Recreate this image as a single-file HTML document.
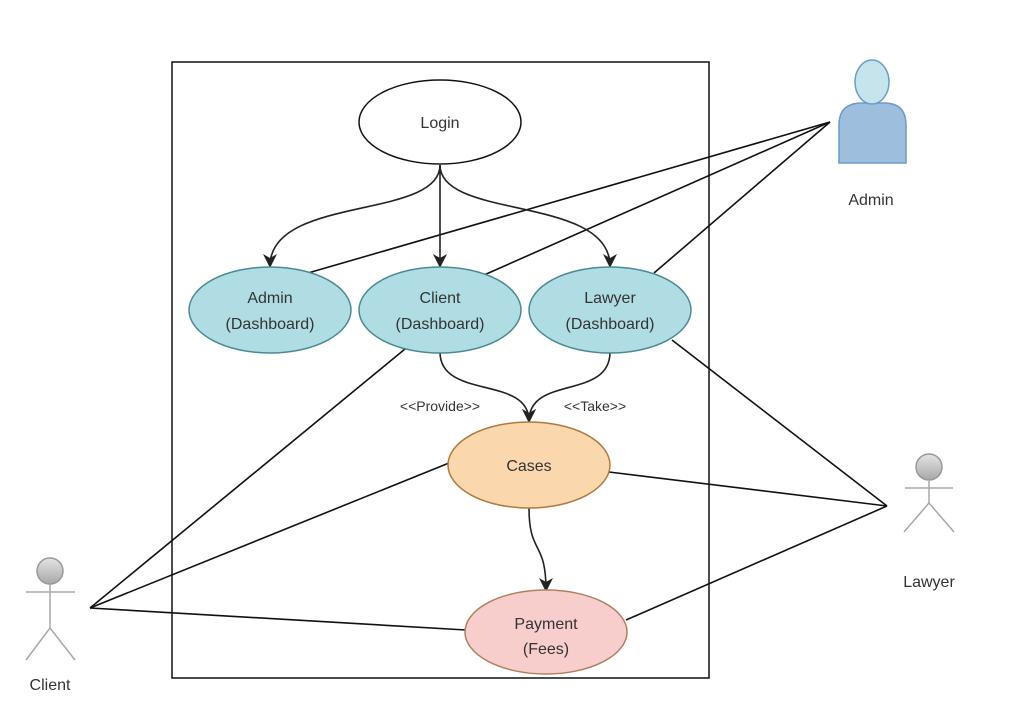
<!DOCTYPE html>
<html><head><meta charset="utf-8"><style>
html,body{margin:0;padding:0;background:#fff;}
svg{display:block;}
text{font-family:"Liberation Sans",Arial,sans-serif;font-size:16px;fill:#333;text-anchor:middle;}
</style></head><body>
<svg width="1024" height="727" viewBox="0 0 1024 727" xmlns="http://www.w3.org/2000/svg">
<defs>
<marker id="a" markerWidth="14" markerHeight="14" refX="12" refY="7" orient="auto" markerUnits="userSpaceOnUse">
<path d="M0,0 L14,7 L0,14 L4,7 Z" fill="#222"/></marker>
<linearGradient id="g" x1="0" y1="0" x2="0" y2="1"><stop offset="0" stop-color="#e4e4e4"/><stop offset="1" stop-color="#a8a8a8"/></linearGradient>
</defs>
<rect x="172" y="62" width="537" height="616" fill="none" stroke="#111" stroke-width="1.5"/>
<g stroke="#111" stroke-width="1.6" fill="none">
<line x1="830" y1="122" x2="308" y2="273"/>
<line x1="830" y1="122" x2="484" y2="275"/>
<line x1="830" y1="122" x2="654" y2="273"/>
<line x1="887" y1="506" x2="672" y2="340"/>
<line x1="887" y1="506" x2="609" y2="472"/>
<line x1="887" y1="506" x2="626" y2="620"/>
<line x1="90" y1="608" x2="405" y2="349"/>
<line x1="90" y1="608" x2="449" y2="463"/>
<line x1="90" y1="608" x2="466" y2="630"/>
</g>
<g stroke="#222" stroke-width="1.6" fill="none">
<path d="M440,165 C440,220 270,195 270,266" marker-end="url(#a)"/>
<path d="M440,165 L440,266" marker-end="url(#a)"/>
<path d="M440,165 C440,220 610,195 610,266" marker-end="url(#a)"/>
<path d="M440,352 C440,400 529,375 529,421" marker-end="url(#a)"/>
<path d="M610,352 C610,400 529,375 529,421" marker-end="url(#a)"/>
<path d="M529,508 C529,555 546,540 546,590" marker-end="url(#a)"/>
</g>
<ellipse cx="440" cy="122" rx="81" ry="42" fill="#fff" stroke="#111" stroke-width="1.5"/>
<text x="440" y="128">Login</text>
<g fill="#b0dde4" stroke="#4a8a95" stroke-width="1.5">
<ellipse cx="270" cy="310" rx="81" ry="43"/>
<ellipse cx="440" cy="310" rx="81" ry="43"/>
<ellipse cx="610" cy="310" rx="81" ry="43"/>
</g>
<text x="270" y="303">Admin</text><text x="270" y="329">(Dashboard)</text>
<text x="440" y="303">Client</text><text x="440" y="329">(Dashboard)</text>
<text x="610" y="303">Lawyer</text><text x="610" y="329">(Dashboard)</text>
<ellipse cx="529" cy="465" rx="81" ry="43" fill="#fad7ac" stroke="#b07a3c" stroke-width="1.5"/>
<text x="529" y="471">Cases</text>
<ellipse cx="546" cy="632" rx="81" ry="42" fill="#f8cecc" stroke="#b08060" stroke-width="1.5"/>
<text x="546" y="629">Payment</text><text x="546" y="654">(Fees)</text>
<text x="440" y="411" style="font-size:14px">&lt;&lt;Provide&gt;&gt;</text>
<text x="595" y="411" style="font-size:14px">&lt;&lt;Take&gt;&gt;</text>
<path d="M839,163 L839,125 Q839,103 862,103 L884,103 Q906,103 906,125 L906,163 Z" fill="#9dbfdd" stroke="#6c9cc7" stroke-width="1.5"/>
<ellipse cx="872" cy="82" rx="17" ry="22" fill="#c5e4ec" stroke="#6c9cc7" stroke-width="1.5"/>
<text x="871" y="205">Admin</text>
<g stroke="#a8a8a8" stroke-width="1.5" fill="none">
<line x1="929" y1="481" x2="929" y2="503"/>
<line x1="905" y1="488" x2="953" y2="488"/>
<line x1="929" y1="503" x2="904" y2="532"/>
<line x1="929" y1="503" x2="954" y2="532"/>
</g>
<circle cx="929" cy="467" r="13" fill="url(#g)" stroke="#999" stroke-width="1.5"/>
<text x="929" y="587">Lawyer</text>
<g stroke="#a8a8a8" stroke-width="1.5" fill="none">
<line x1="50" y1="584" x2="50" y2="628"/>
<line x1="26" y1="592" x2="75" y2="592"/>
<line x1="50" y1="628" x2="26" y2="660"/>
<line x1="50" y1="628" x2="75" y2="660"/>
</g>
<circle cx="50" cy="571" r="13" fill="url(#g)" stroke="#999" stroke-width="1.5"/>
<text x="50" y="690">Client</text>
</svg>
</body></html>
